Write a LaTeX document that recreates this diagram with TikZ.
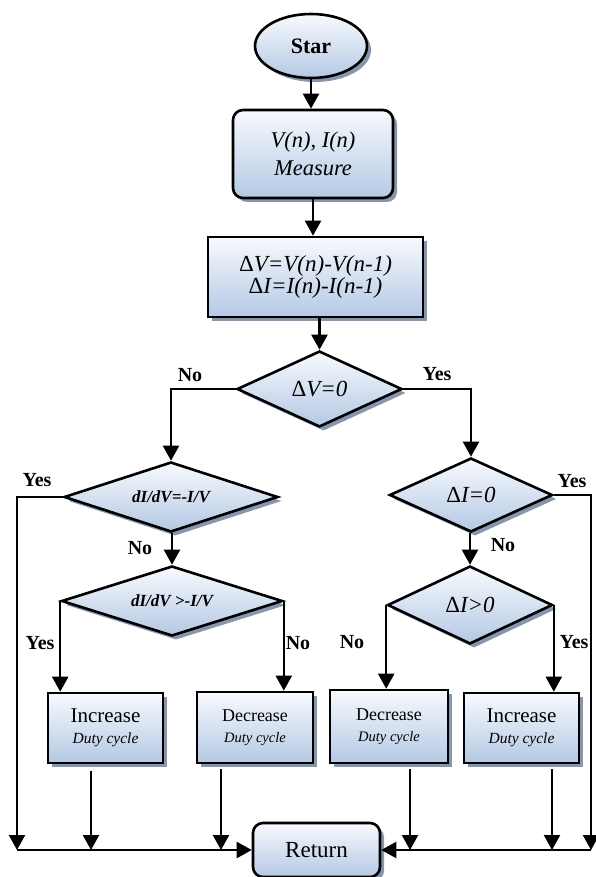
\documentclass[tikz,border=0pt]{standalone}
\usepackage{fontspec}
\setmainfont{Liberation Serif}
\usetikzlibrary{shapes.geometric,arrows.meta,shadows,calc}
\definecolor{topc}{RGB}{248,250,253}
\definecolor{botc}{RGB}{180,200,228}
\definecolor{shc}{RGB}{135,150,175}
\tikzset{
  base/.style={draw=black, line width=2.6pt, top color=topc, bottom color=botc,
    drop shadow={shadow xshift=4pt, shadow yshift=-4pt, fill=shc, opacity=1},
    inner sep=0pt, align=center},
  rbox/.style={base, rectangle, rounded corners=10pt},
  sbox/.style={base, rectangle},
  dia/.style={base, diamond, aspect=2},
  conn/.style={line width=2.2pt},
  arr/.style={conn, -{Triangle[width=16pt,length=15pt]}},
  lab/.style={font=\bfseries\fontsize{20}{20}\selectfont, inner sep=0pt},
  bigtxt/.style={font=\itshape\fontsize{22.5}{28}\selectfont},
  inctxt/.style={font=\fontsize{21}{21}\selectfont},
  dectxt/.style={font=\fontsize{18}{21}\selectfont}
}
\begin{document}
\begin{tikzpicture}[x=1pt,y=-1pt]
\useasboundingbox (0,0) rectangle (595,877);
% nodes
\node[base, ellipse, minimum width=112pt, minimum height=64pt,
      font=\bfseries\fontsize{22}{26}\selectfont] (start) at (311,46) {Star};
\node[rbox, minimum width=160pt, minimum height=88pt, bigtxt] (meas) at (313,154)
  {V(n), I(n)\\Measure};
\node[sbox, minimum width=215pt, minimum height=80pt,
      font=\fontsize{23}{22}\selectfont] (dv) at (315.5,277)
  {Δ\textit{V=V(n)-V(n-1)}\\Δ\textit{I=I(n)-I(n-1)}};
\node[dia, minimum width=165pt, minimum height=76pt,
      font=\fontsize{23}{22}\selectfont] (dv0) at (319.5,389) {Δ\textit{V=0}};
\node[dia, minimum width=214pt, minimum height=70pt,
      font=\bfseries\itshape\fontsize{17}{17}\selectfont] (d1) at (171,497) {dI/dV=-I/V};
\node[dia, minimum width=221pt, minimum height=70pt,
      font=\bfseries\itshape\fontsize{17}{17}\selectfont] (d2) at (172,601) {dI/dV >-I/V};
\node[dia, minimum width=163pt, minimum height=74pt,
      font=\fontsize{23}{22}\selectfont] (d3) at (471,495) {Δ\textit{I=0}};
\node[dia, minimum width=165pt, minimum height=78pt,
      font=\fontsize{23}{22}\selectfont] (d4) at (470,605) {Δ\textit{I>0}};
\node[sbox, minimum width=115pt, minimum height=70pt, inctxt] (inc1) at (105.5,728)
  {Increase\\{\itshape\fontsize{15.5}{21}\selectfont Duty cycle}};
\node[sbox, minimum width=116pt, minimum height=71pt, dectxt] (dec1) at (255,727.5)
  {Decrease\\{\itshape\fontsize{14.5}{21}\selectfont Duty cycle}};
\node[sbox, minimum width=118pt, minimum height=73pt, dectxt] (dec2) at (389,726.5)
  {Decrease\\{\itshape\fontsize{14.5}{21}\selectfont Duty cycle}};
\node[sbox, minimum width=115pt, minimum height=70pt, inctxt] (inc2) at (521.5,728)
  {Increase\\{\itshape\fontsize{15.5}{21}\selectfont Duty cycle}};
\node[rbox, minimum width=127pt, minimum height=54pt,
      font=\fontsize{23}{23}\selectfont] (ret) at (316.5,850) {Return};
% helper coordinates
\coordinate (lb) at (17,850);
\coordinate (rb) at (591,850);
\coordinate (i1t) at ($(inc1.south)+(-14.5,7)$);
\coordinate (d1t) at ($(dec1.south)+(-34,5)$);
\coordinate (d2t) at ($(dec2.south)+(21,5)$);
\coordinate (i2t) at ($(inc2.south)+(30.5,5)$);
% connectors
\draw[arr] (start.south) -- (start.south |- meas.north);
\draw[arr] (meas.south) -- (meas.south |- dv.north);
\draw[arr] (dv0.north |- dv.south) -- (dv0.north);
\draw[arr] (dv0.west) -| (d1.north);
\draw[arr] (dv0.east) -| (d3.north);
\draw[arr] (d1.west) -| (lb);
\draw[arr] (d3.east) -| (rb);
\draw[arr] (d2.north |- d1.south) -- (d2.north);
\draw[arr] (d4.north |- d3.south) -- (d4.north);
\draw[arr] (d2.west) -- (d2.west |- inc1.north);
\draw[arr] (d2.east) -- (d2.east |- dec1.north);
\draw[arr] (d4.west) -- (d4.west |- dec2.north);
\draw[arr] (d4.east) -- (d4.east |- inc2.north);
\draw[arr] (i1t) -- (i1t |- lb);
\draw[arr] (d1t) -- (d1t |- lb);
\draw[arr] (d2t) -- (d2t |- rb);
\draw[arr] (i2t) -- (i2t |- rb);
\draw[arr] (lb) -- (ret.west);
\draw[arr] (rb) -- (ret.east);
% labels
\node[lab] (l1) at (190,375) {No};
\node[lab] (l2) at (437,374) {Yes};
\node[lab] (l3) at (37,480) {Yes};
\node[lab] (l4) at (140,548) {No};
\node[lab] (l5) at (572,481) {Yes};
\node[lab] (l6) at (503,545) {No};
\node[lab] (l7) at (40,643) {Yes};
\node[lab] (l8) at (298,643) {No};
\node[lab] (l9) at (352,642) {No};
\node[lab] (l10) at (574,642) {Yes};
\end{tikzpicture}
\end{document}
